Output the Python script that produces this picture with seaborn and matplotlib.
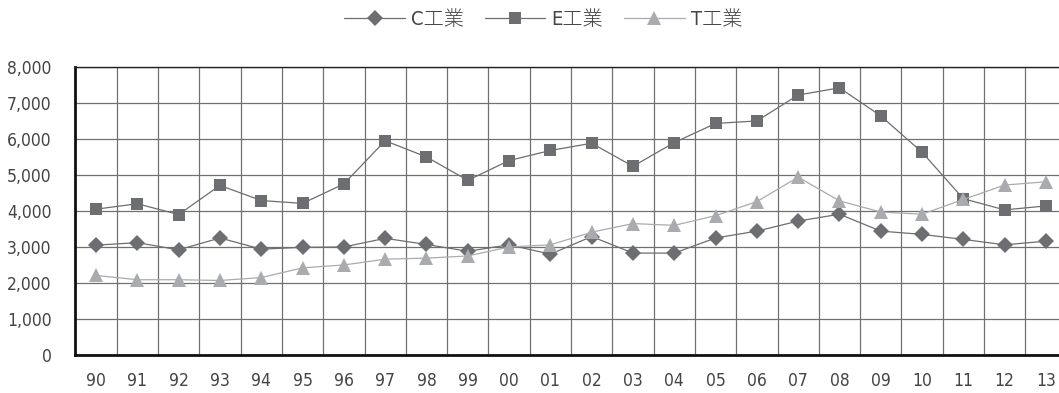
import numpy as np
import pandas as pd
import matplotlib
matplotlib.use("Agg")
import matplotlib.pyplot as plt
import seaborn as sns
from matplotlib.ticker import FuncFormatter, MultipleLocator

# Years (two-digit labels) and annual values for each company
years = ["90", "91", "92", "93", "94", "95", "96", "97", "98", "99", "00", "01",
         "02", "03", "04", "05", "06", "07", "08", "09", "10", "11", "12", "13"]
c_values = [3050, 3120, 2920, 3250, 2940, 2990, 3000, 3240, 3070, 2880, 3060, 2800,
            3290, 2830, 2830, 3250, 3440, 3720, 3910, 3440, 3350, 3210, 3060, 3160]
e_values = [4050, 4200, 3900, 4710, 4290, 4210, 4750, 5950, 5500, 4850, 5400, 5680,
            5880, 5240, 5900, 6430, 6500, 7220, 7420, 6640, 5630, 4340, 4030, 4140]
t_values = [2210, 2090, 2090, 2070, 2150, 2420, 2500, 2660, 2690, 2750, 3000, 3060,
            3410, 3650, 3600, 3870, 4260, 4940, 4280, 3970, 3910, 4320, 4720, 4810]
series_names = ["C工業", "E工業", "T工業"]

sns.set_theme(style="white")
plt.rcParams["font.family"] = ["DejaVu Sans", "Noto Sans CJK JP"]
plt.rcParams["font.stretch"] = "condensed"
plt.rcParams["font.weight"] = "light"

idx = np.arange(len(years))
df = pd.DataFrame({
    "pos": np.tile(idx, 3),
    "value": c_values + e_values + t_values,
    "company": np.repeat(series_names, len(years)),
})

line_colors = {"C工業": "#6d6e71", "E工業": "#6d6e71", "T工業": "#a9abae"}
markers = {"C工業": "D", "E工業": "s", "T工業": "^"}

fig = plt.figure(figsize=(10.59, 3.93), dpi=100)
ax = fig.add_axes([0.0712, 0.0967, 0.936, 0.733])

sns.lineplot(data=df, x="pos", y="value", hue="company", style="company",
             palette=line_colors, markers=markers, dashes=False,
             markersize=8.5, linewidth=0.9, markeredgewidth=0,
             ax=ax, legend=True, zorder=3)
# slightly larger triangles
for line in ax.lines:
    if line.get_marker() == "^":
        line.set_markersize(10.5)

ax.set_xlim(-0.5, len(years) - 0.5)
ax.set_ylim(0, 8000)
ax.set_xticks(idx)
ax.set_xticklabels(years)
ax.set_xticks(idx[:-1] + 0.5, minor=True)
ax.yaxis.set_major_locator(MultipleLocator(1000))
ax.yaxis.set_major_formatter(FuncFormatter(lambda v, p: f"{int(v):,}"))
ax.set_xlabel("")
ax.set_ylabel("")

ax.grid(False)
ax.grid(True, which="major", axis="y", color="#707070", linewidth=0.9, zorder=0)
ax.grid(True, which="minor", axis="x", color="#707070", linewidth=0.9, zorder=0)
ax.set_axisbelow(True)

ax.tick_params(axis="both", which="both", length=0, colors="#444444", labelsize=12.5)
ax.tick_params(axis="y", pad=17)
ax.tick_params(axis="x", pad=12)

for side in ["left", "bottom"]:
    ax.spines[side].set_color("#111111")
    ax.spines[side].set_linewidth(2.0)
ax.spines["top"].set_color("#222222")
ax.spines["top"].set_linewidth(1.0)
ax.spines["right"].set_visible(False)

handles, labels = ax.get_legend_handles_labels()
ax.legend(handles, labels, loc="center", bbox_to_anchor=(0.472, 1.163),
          ncol=3, frameon=False, fontsize=14.5, handlelength=3.0,
          columnspacing=1.05, handletextpad=0.3, labelcolor="#444444")

fig.savefig("out.png", dpi=100)
